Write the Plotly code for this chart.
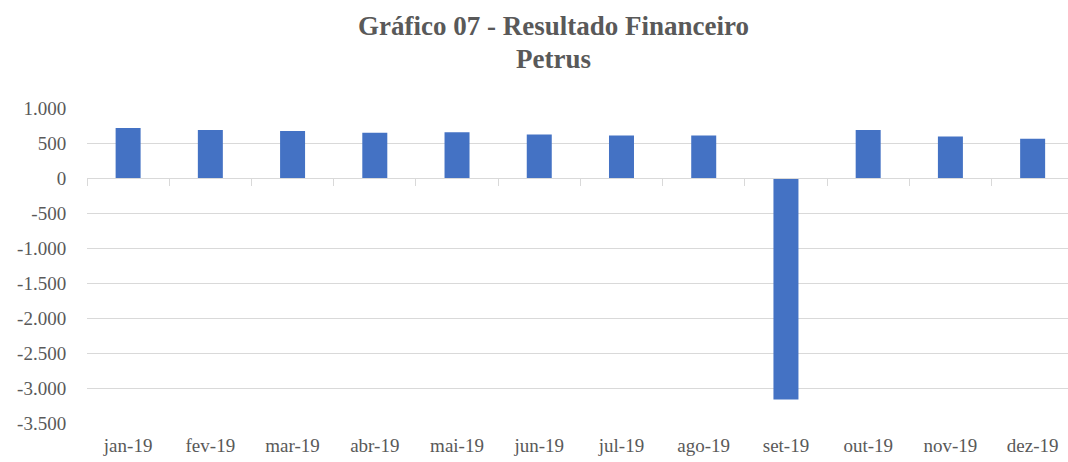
import plotly.graph_objects as go

months = ["jan-19", "fev-19", "mar-19", "abr-19", "mai-19", "jun-19",
          "jul-19", "ago-19", "set-19", "out-19", "nov-19", "dez-19"]
resultado = [713, 684, 670, 646, 655, 622, 608, 608, -3165, 684, 593, 560]
y_ticks = [1000, 500, 0, -500, -1000, -1500, -2000, -2500, -3000, -3500]
y_labels = ["1.000", "500", "0", "-500", "-1.000", "-1.500", "-2.000", "-2.500", "-3.000", "-3.500"]
title_lines = ["Gráfico 07 - Resultado Financeiro", "Petrus"]

W, H = 1068, 462
ML, MR, MT, MB = 87, 0, 108, 39
ymin, ymax = -3500, 1000
xr = [-0.5, 11.43]

grey = "#595959"
grid = "#d9d9d9"
font = "Liberation Serif"

PW, PH = W - ML - MR, H - MT - MB

def px_y(yp):
    return 1 + (MT - yp) / PH

fig = go.Figure()
fig.add_trace(go.Bar(x=months, y=resultado, marker=dict(color="#4472c4", line=dict(width=0)),
                     xaxis="x", yaxis="y", hoverinfo="x+y"))
# helper invisible trace for the category axis drawn at y = 0
fig.add_trace(go.Scatter(x=months, y=[0] * len(months), mode="none", xaxis="x2", yaxis="y",
                         showlegend=False, hoverinfo="skip"))

zero_pos = (0 - ymin) / (ymax - ymin)

ann = []
for txt, ypx in zip(title_lines, [26, 59]):
    ann.append(dict(text="<b>%s</b>" % txt, showarrow=False, xref="paper", yref="paper",
                    x=(553 - ML) / PW, y=px_y(ypx), xanchor="center", yanchor="middle",
                    font=dict(family=font, size=27, color=grey)))

fig.update_layout(
    width=W, height=H,
    margin=dict(l=ML, r=MR, t=MT, b=MB, pad=0, autoexpand=False),
    paper_bgcolor="white", plot_bgcolor="white",
    showlegend=False,
    bargap=0.696,
    annotations=ann,
    xaxis=dict(type="category", categoryorder="array", categoryarray=months, range=xr,
               showline=False, showgrid=False, zeroline=False, automargin=False,
               ticks="outside", ticklen=5, tickcolor="rgba(0,0,0,0)",
               tickfont=dict(family=font, size=19, color=grey)),
    xaxis2=dict(type="category", categoryorder="array", categoryarray=months, range=xr,
                overlaying="x", anchor="free", position=zero_pos, side="bottom",
                showline=True, linecolor=grid, linewidth=1, automargin=False,
                ticks="outside", tickson="boundaries", ticklen=7, tickcolor=grid, tickwidth=1,
                showticklabels=False, showgrid=False, zeroline=False),
    yaxis=dict(range=[ymin, ymax], tickvals=y_ticks, ticktext=y_labels, automargin=False,
               showgrid=True, gridcolor=grid, gridwidth=1, zeroline=False,
               showline=False, ticks="outside", ticklen=16, tickcolor="rgba(0,0,0,0)",
               tickfont=dict(family=font, size=19, color=grey)),
)

fig.write_html("out.html", config={"displayModeBar": False},
               post_script="document.body.style.margin='0';document.body.style.overflow='hidden';")
